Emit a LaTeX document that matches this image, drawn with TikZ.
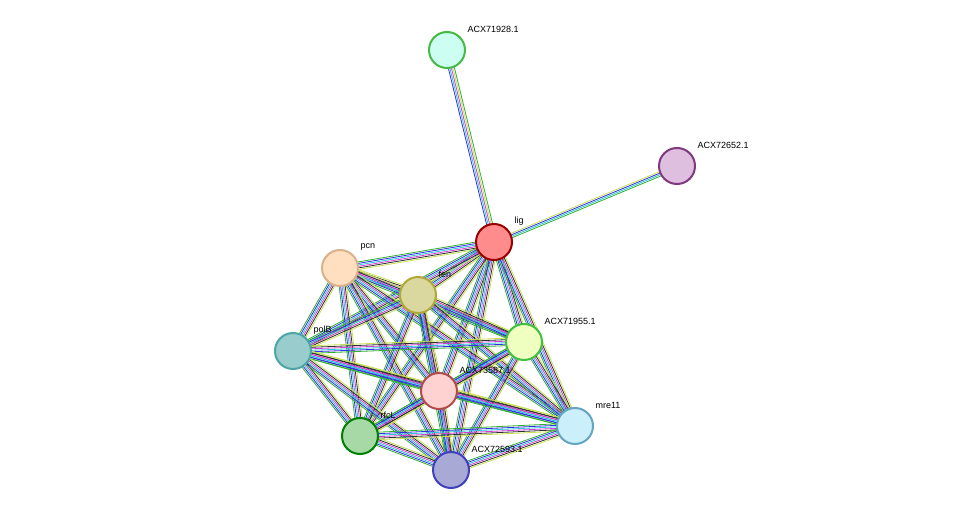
\documentclass[tikz,border=0pt]{standalone}
\usepackage{fontspec}
\setmainfont{Liberation Sans}
\usetikzlibrary{calc}

\definecolor{tm}{HTML}{C8E050}
\definecolor{nb}{HTML}{30B030}
\definecolor{db}{HTML}{30C0E0}
\definecolor{ex}{HTML}{D040D0}
\definecolor{co}{HTML}{3030E0}
\definecolor{ce}{HTML}{303030}

% parallel coloured lines between two nodes
\newcommand\pedge[3]{%
  \foreach \c [count=\k] in {#3}{%
    \pgfmathsetmacro\off{(\k-3)*1.5}
    \draw[\c, line width=0.8pt] ($(#1)!\off pt!90:(#2)$) -- ($(#2)!\off pt!-90:(#1)$);
  }}

\begin{document}
\begin{tikzpicture}[
    x=1pt, y=-1pt,
    prot/.style={circle, minimum size=36pt, inner sep=0pt, line width=2pt},
    lbl/.style={font=\fontsize{9}{10}\selectfont, anchor=west}
  ]
  \useasboundingbox (0,0) rectangle (975,516);

  % Proteine
  \coordinate (a928) at (447,50);
  \coordinate (a652) at (677,166);
  \coordinate (lig) at (494,242);
  \coordinate (pcn) at (340,268);
  \coordinate (fen) at (418,295);
  \coordinate (polB) at (293,351);
  \coordinate (a955) at (524,342);
  \coordinate (a587) at (439,391);
  \coordinate (mre) at (575,426);
  \coordinate (rfcL) at (360,436);
  \coordinate (a593) at (451,470);

  % Kanten
  \pedge{lig}{a928}{nb,tm,ex,db,co}
  \pedge{lig}{a652}{nb,db,co,tm}
  \foreach \p/\q in {lig/pcn,lig/fen,lig/polB,lig/a955,lig/a587,lig/mre,lig/rfcL,lig/a593,
      pcn/fen,pcn/polB,pcn/a955,pcn/a587,pcn/mre,pcn/rfcL,pcn/a593,
      fen/polB,fen/a955,fen/a587,fen/mre,fen/rfcL,fen/a593,
      polB/a955,polB/a587,polB/mre,polB/rfcL,polB/a593,
      a955/a587,a955/mre,a955/rfcL,a955/a593,
      a587/mre,a587/rfcL,a587/a593,
      mre/rfcL,mre/a593,rfcL/a593}
    {\pedge{\p}{\q}{nb,co,db,ex,ce,tm}}

  % Knoten
  \node[prot, draw=green!45!gray, fill=green!25!cyan!20] (n928) at (a928) {};
  \node[prot, draw=violet!55!gray, fill=violet!25] (n652) at (a652) {};
  \node[prot, draw=red!60!black, fill=red!45] (nlig) at (lig) {};
  \node[prot, draw=brown!60, fill=orange!25] (npcn) at (pcn) {};
  \node[prot, draw=olive!70, fill=yellow!45!gray!60] (nfen) at (fen) {};
  \node[prot, draw=teal!70, fill=teal!40] (npolB) at (polB) {};
  \node[prot, draw=green!50!gray, fill=lime!25] (n955) at (a955) {};
  \node[prot, draw=red!40!gray, fill=pink!70] (n587) at (a587) {};
  \node[prot, draw=cyan!50!gray, fill=cyan!20] (nmre) at (mre) {};
  \node[prot, draw=green!50!black, fill=green!40!gray!50] (nrfcL) at (rfcL) {};
  \node[prot, draw=blue!50!gray, fill=blue!35!gray!50] (n593) at (a593) {};

  % Beschriftungen
  \foreach \n/\t in {a928/ACX71928.1,a652/ACX72652.1,lig/lig,pcn/pcn,fen/fen,polB/polB,
      a955/ACX71955.1,a587/ACX73587.1,mre/mre11,rfcL/rfcL,a593/ACX72593.1}
    \node[lbl] at ($(\n)+(17,-21)$) {\t};
\end{tikzpicture}
\end{document}
